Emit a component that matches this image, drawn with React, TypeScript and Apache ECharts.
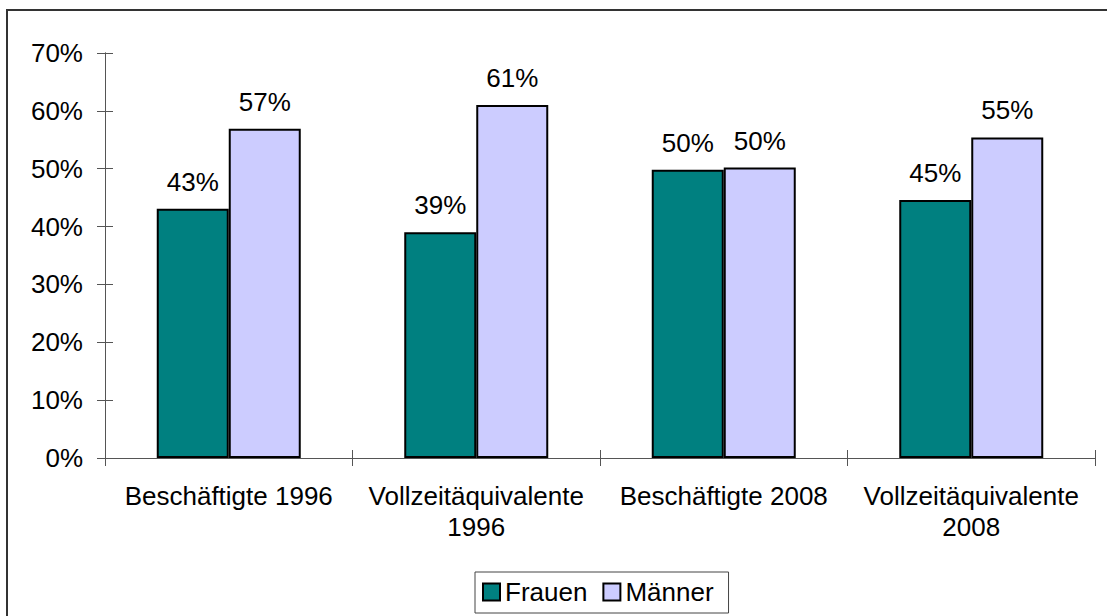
import React, { useEffect, useRef } from "react";
import * as echarts from "echarts";

const categories = ["Beschäftigte 1996", "Vollzeitäquivalente\n1996", "Beschäftigte 2008", "Vollzeitäquivalente\n2008"];
const frauen = [43.1, 39.0, 49.8, 44.6];
const maenner = [56.9, 61.0, 50.2, 55.4];
const yTicks = [0, 10, 20, 30, 40, 50, 60, 70];

const FONT = "'Liberation Sans', Arial, sans-serif";
const FS = 26;

export default function App() {
  const ref = useRef<HTMLDivElement>(null);
  useEffect(() => {
    const chart = echarts.init(ref.current!, undefined, { renderer: "svg" });
    const axisLine = { show: true, lineStyle: { color: "#555", width: 1 } };
    const label = {
      show: true,
      position: "top" as const,
      distance: 14,
      formatter: (p: any) => Math.round(p.value) + "%",
      fontFamily: FONT,
      fontSize: FS,
      color: "#000",
    };
    chart.setOption({
      animation: false,
      backgroundColor: "#fff",
      textStyle: { fontFamily: FONT },
      grid: { left: 105, right: 12, top: 53, bottom: 158, containLabel: false },
      legend: {
        left: 475,
        top: 572,
        orient: "horizontal",
        padding: [7, 15, 8, 7],
        borderColor: "#444",
        borderWidth: 1,
        itemWidth: 17,
        itemHeight: 17,
        itemGap: 15,
        icon: "rect",
        textStyle: { fontFamily: FONT, fontSize: FS, color: "#000" },
        data: ["Frauen", "Männer"],
      },
      xAxis: [
        {
          type: "category",
          data: categories,
          boundaryGap: true,
          axisLine,
          axisTick: { show: true, length: 8, lineStyle: { color: "#555" } },
          axisLabel: {
            interval: 0,
            margin: 22,
            fontFamily: FONT,
            fontSize: FS,
            color: "#000",
            lineHeight: 31,
          },
        },
        {
          type: "category",
          data: categories,
          position: "bottom",
          boundaryGap: true,
          axisLine,
          axisTick: { show: true, inside: true, length: 8, lineStyle: { color: "#555" } },
          axisLabel: { show: false },
        },
      ],
      yAxis: [
        {
          type: "value",
          min: yTicks[0],
          max: yTicks[yTicks.length - 1],
          interval: 10,
          position: "left",
          axisLine,
          axisTick: { show: true, length: 8, lineStyle: { color: "#555" } },
          splitLine: { show: false },
          axisLabel: {
            margin: 22,
            formatter: "{value}%",
            fontFamily: FONT,
            fontSize: FS,
            color: "#000",
          },
        },
        {
          type: "value",
          min: yTicks[0],
          max: yTicks[yTicks.length - 1],
          interval: 10,
          position: "left",
          axisLine,
          axisTick: { show: true, inside: true, length: 8, lineStyle: { color: "#555" } },
          splitLine: { show: false },
          axisLabel: { show: false },
        },
      ],
      series: [
        {
          name: "Frauen",
          type: "bar",
          data: frauen,
          barWidth: 72,
          barGap: "0%",
          itemStyle: { color: "#008080", borderColor: "#000", borderWidth: 2 },
          label,
        },
        {
          name: "Männer",
          type: "bar",
          data: maenner,
          barWidth: 72,
          barGap: "0%",
          itemStyle: { color: "#CCCCFF", borderColor: "#000", borderWidth: 2 },
          label,
        },
      ],
      graphic: [
        {
          type: "rect",
          silent: true,
          z: 100,
          shape: { x: 7, y: 10, width: 1200, height: 700 },
          style: { fill: "none", stroke: "#333", lineWidth: 2 },
        },
      ],
    });
    return () => chart.dispose();
  }, []);
  return (
    <div
      ref={ref}
      style={{ position: "absolute", left: 0, top: 0, width: 1107, height: 616 }}
    />
  );
}
